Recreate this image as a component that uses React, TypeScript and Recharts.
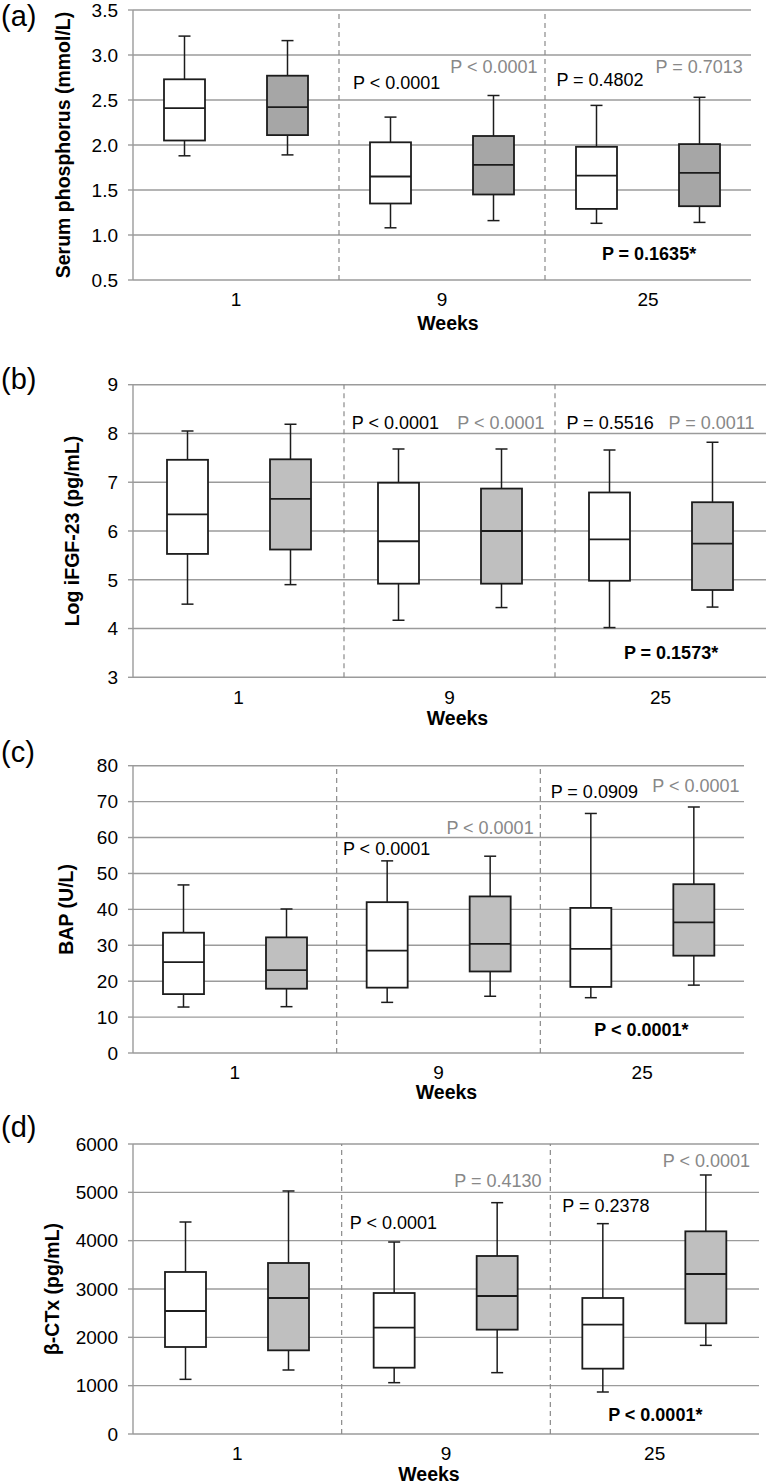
import React from "react";
import {
  ComposedChart,
  Bar,
  XAxis,
  YAxis,
  CartesianGrid,
  ReferenceLine,
  ReferenceDot,
} from "recharts";

const FONT = '"Liberation Sans", Arial, Helvetica, sans-serif';
const GRID = "#9b9b9b";
const SEP = "#8a8a8a";
const INK = "#1c1c1c";
const GREY_TXT = "#888888";

const WEEKS = ["1", "9", "25"];
const WEEK_POS = [0.5, 1.5, 2.5];
const BAND_EDGES = [1, 2];

// each row: [min, q1, median, q3, max] for weeks 1, 9, 25
const phosWhite = [
  [1.88, 2.05, 2.41, 2.73, 3.21],
  [1.08, 1.35, 1.65, 2.03, 2.31],
  [1.13, 1.29, 1.66, 1.98, 2.44],
];
const phosGrey = [
  [1.89, 2.11, 2.42, 2.77, 3.16],
  [1.16, 1.45, 1.78, 2.1, 2.55],
  [1.14, 1.32, 1.69, 2.01, 2.53],
];
const fgfWhite = [
  [4.5, 5.53, 6.34, 7.46, 8.05],
  [4.17, 4.92, 5.79, 6.99, 7.68],
  [4.02, 4.98, 5.83, 6.79, 7.66],
];
const fgfGrey = [
  [4.9, 5.62, 6.66, 7.47, 8.19],
  [4.43, 4.92, 6.0, 6.87, 7.68],
  [4.44, 4.79, 5.74, 6.59, 7.82],
];
const bapWhite = [
  [12.8, 16.4, 25.3, 33.5, 46.8],
  [14.1, 18.2, 28.5, 42.0, 53.5],
  [15.4, 18.4, 29.0, 40.4, 66.7],
];
const bapGrey = [
  [12.9, 17.9, 23.1, 32.2, 40.1],
  [15.8, 22.7, 30.4, 43.6, 54.8],
  [18.9, 27.1, 36.4, 47.0, 68.5],
];
const ctxWhite = [
  [1131, 1800, 2545, 3352, 4386],
  [1062, 1372, 2200, 2917, 3972],
  [869, 1352, 2262, 2814, 4352],
];
const ctxGrey = [
  [1324, 1731, 2814, 3538, 5028],
  [1269, 2159, 2855, 3683, 4786],
  [1834, 2290, 3310, 4193, 5359],
];

const phosTicks = [0.5, 1, 1.5, 2, 2.5, 3, 3.5];
const fgfTicks = [3, 4, 5, 6, 7, 8, 9];
const bapTicks = [0, 10, 20, 30, 40, 50, 60, 70, 80];
const ctxTicks = [0, 1000, 2000, 3000, 4000, 5000, 6000];

// p-value notes, placed in data units (x: 0..3 across the week bands)
const phosNotes = [
  { text: "P < 0.0001", x: 1.28, y: 2.69, tone: "black" },
  { text: "P < 0.0001", x: 1.752, y: 2.867, tone: "grey" },
  { text: "P = 0.4802", x: 2.267, y: 2.722, tone: "black" },
  { text: "P = 0.7013", x: 2.748, y: 2.867, tone: "grey" },
  { text: "P = 0.1635*", x: 2.505, y: 0.79, tone: "bold" },
];
const fgfNotes = [
  { text: "P < 0.0001", x: 1.244, y: 8.215, tone: "black" },
  { text: "P < 0.0001", x: 1.744, y: 8.215, tone: "grey" },
  { text: "P = 0.5516", x: 2.261, y: 8.215, tone: "black" },
  { text: "P = 0.0011", x: 2.742, y: 8.215, tone: "grey" },
  { text: "P = 0.1573*", x: 2.55, y: 3.5, tone: "bold" },
];
const bapNotes = [
  { text: "P < 0.0001", x: 1.245, y: 56.8, tone: "black" },
  { text: "P < 0.0001", x: 1.753, y: 62.9, tone: "grey" },
  { text: "P = 0.0909", x: 2.265, y: 72.7, tone: "black" },
  { text: "P < 0.0001", x: 2.764, y: 74.4, tone: "grey" },
  { text: "P < 0.0001*", x: 2.496, y: 6.4, tone: "bold" },
];
const ctxNotes = [
  { text: "P < 0.0001", x: 1.248, y: 4372, tone: "black" },
  { text: "P = 0.4130", x: 1.749, y: 5241, tone: "grey" },
  { text: "P = 0.2378", x: 2.266, y: 4724, tone: "black" },
  { text: "P < 0.0001", x: 2.748, y: 5655, tone: "grey" },
  { text: "P < 0.0001*", x: 2.503, y: 408, tone: "bold" },
];

const panels = [
  {
    tag: "(a)", tagY: 16, top: 0, height: 340,
    margin: { top: 10, right: 21, bottom: 15, left: 73 },
    title: "Serum phosphorus (mmol/L)", titleX: 63,
    white: phosWhite, grey: phosGrey, ticks: phosTicks, notes: phosNotes,
    fmt: (v: number) => v.toFixed(1), fill: "#a6a6a6", weeksDx: 6, weeksDy: 43,
  },
  {
    tag: "(b)", tagY: 379, top: 360, height: 370,
    margin: { top: 24.7, right: 6, bottom: 7.7, left: 73 },
    title: "Log iFGF-23 (pg/mL)", titleX: 72,
    white: fgfWhite, grey: fgfGrey, ticks: fgfTicks, notes: fgfNotes,
    fmt: (v: number) => String(v), fill: "#bfbfbf", weeksDx: 8, weeksDy: 41,
  },
  {
    tag: "(c)", tagY: 752, top: 740, height: 370,
    margin: { top: 25.7, right: 28, bottom: 12, left: 73 },
    title: "BAP (U/L)", titleX: 66,
    white: bapWhite, grey: bapGrey, ticks: bapTicks, notes: bapNotes,
    fmt: (v: number) => String(v), fill: "#bfbfbf", weeksDx: 8, weeksDy: 39,
  },
  {
    tag: "(d)", tagY: 1127, top: 1110, height: 374,
    margin: { top: 34, right: 13, bottom: 5, left: 73 },
    title: "β-CTx (pg/mL)", titleX: 52,
    white: ctxWhite, grey: ctxGrey, ticks: ctxTicks, notes: ctxNotes,
    fmt: (v: number) => String(v), fill: "#bfbfbf", weeksDx: -17, weeksDy: 40,
  },
];

function BoxShape(props: any) {
  const { x, y, width, height, stats, fill } = props;
  if (x == null || y == null) return null;
  const [mn, q1, md, q3, mx] = stats as number[];
  const top = Math.min(y, y + height);
  const h = Math.abs(height);
  const py = (v: number) => top + ((mx - v) / (mx - mn)) * h;
  const cx = x + width / 2;
  const cap = 6;
  return (
    <g>
      <line x1={cx} x2={cx} y1={py(mx)} y2={py(q3)} stroke={INK} strokeWidth={1.5} />
      <line x1={cx} x2={cx} y1={py(q1)} y2={py(mn)} stroke={INK} strokeWidth={1.5} />
      <line x1={cx - cap} x2={cx + cap} y1={py(mx)} y2={py(mx)} stroke={INK} strokeWidth={1.5} />
      <line x1={cx - cap} x2={cx + cap} y1={py(mn)} y2={py(mn)} stroke={INK} strokeWidth={1.5} />
      <rect x={x} y={py(q3)} width={width} height={py(q1) - py(q3)} fill={fill} stroke={INK} strokeWidth={1.8} />
      <line x1={x} x2={x + width} y1={py(md)} y2={py(md)} stroke={INK} strokeWidth={1.8} />
    </g>
  );
}

function YTitle(props: any) {
  const { viewBox, text, cx } = props;
  const cy = viewBox.y + viewBox.height / 2;
  return (
    <text
      x={cx}
      y={cy}
      dy="0.36em"
      transform={`rotate(-90, ${cx}, ${cy})`}
      textAnchor="middle"
      fontSize={19.5}
      fontWeight="bold"
      fontFamily={FONT}
      fill="#000"
    >
      {text}
    </text>
  );
}

function XTitle(props: any) {
  const { viewBox, dx, dy } = props;
  return (
    <text
      x={viewBox.x + viewBox.width / 2 + dx}
      y={viewBox.y + dy}
      dy="0.36em"
      textAnchor="middle"
      fontSize={19.5}
      fontWeight="bold"
      fontFamily={FONT}
      fill="#000"
    >
      Weeks
    </text>
  );
}

function Panel({ p }: { p: (typeof panels)[number] }) {
  const rows = WEEKS.map((w, i) => ({
    pos: WEEK_POS[i],
    week: w,
    wr: [p.white[i][0], p.white[i][4]],
    gr: [p.grey[i][0], p.grey[i][4]],
    ws: p.white[i],
    gs: p.grey[i],
  }));
  const lo = p.ticks[0];
  const hi = p.ticks[p.ticks.length - 1];
  return (
    <div style={{ position: "absolute", left: 0, top: p.top, width: 772, height: p.height }}>
      <ComposedChart width={772} height={p.height} data={rows} margin={p.margin} barGap={62}>
        <CartesianGrid stroke={GRID} strokeWidth={1.4} vertical={false} />
        <XAxis
          dataKey="pos"
          type="number"
          domain={[0, 3]}
          allowDataOverflow
          ticks={WEEK_POS}
          interval={0}
          tickFormatter={(v: number) => WEEKS[WEEK_POS.indexOf(v)]}
          tickLine={false}
          axisLine={false}
          tickSize={0}
          tickMargin={13}
          height={45}
          tick={{ fontSize: 19, fill: "#000", fontFamily: FONT }}
          label={{ content: (lp: any) => <XTitle {...lp} dx={p.weeksDx} dy={p.weeksDy} /> }}
        />
        <YAxis
          width={60}
          domain={[lo, hi]}
          ticks={p.ticks}
          interval={0}
          tickFormatter={p.fmt}
          tickSize={5}
          tickMargin={10}
          axisLine={{ stroke: GRID, strokeWidth: 1.4 }}
          tickLine={{ stroke: GRID, strokeWidth: 1.4 }}
          tick={{ fontSize: 19, fill: "#000", fontFamily: FONT }}
          label={{ content: (lp: any) => <YTitle {...lp} text={p.title} cx={p.titleX} /> }}
        />
        {BAND_EDGES.map((e) => (
          <ReferenceLine key={e} x={e} stroke={SEP} strokeWidth={1.2} strokeDasharray="5 4" />
        ))}
        <Bar
          dataKey="wr"
          barSize={41}
          isAnimationActive={false}
          shape={(bp: any) => <BoxShape {...bp} stats={bp.payload.ws} fill="#ffffff" />}
        />
        <Bar
          dataKey="gr"
          barSize={41}
          isAnimationActive={false}
          shape={(bp: any) => <BoxShape {...bp} stats={bp.payload.gs} fill={p.fill} />}
        />
        {p.notes.map((n, i) => (
          <ReferenceDot
            key={i}
            x={n.x}
            y={n.y}
            r={0}
            fill="none"
            stroke="none"
            label={{
              value: n.text,
              position: "center",
              fill: n.tone === "grey" ? GREY_TXT : "#000",
              fontSize: 18,
              fontWeight: n.tone === "bold" ? "bold" : "normal",
              fontFamily: FONT,
            }}
          />
        ))}
      </ComposedChart>
      <div
        style={{
          position: "absolute",
          left: 1,
          top: p.tagY - p.top - 15,
          fontSize: 29,
          lineHeight: "30px",
          fontFamily: FONT,
          color: "#000",
        }}
      >
        {p.tag}
      </div>
    </div>
  );
}

export default function App() {
  return (
    <div style={{ position: "absolute", left: 0, top: 0, width: 772, height: 1484, background: "#fff" }}>
      {panels.map((p) => (
        <Panel key={p.tag} p={p} />
      ))}
    </div>
  );
}
